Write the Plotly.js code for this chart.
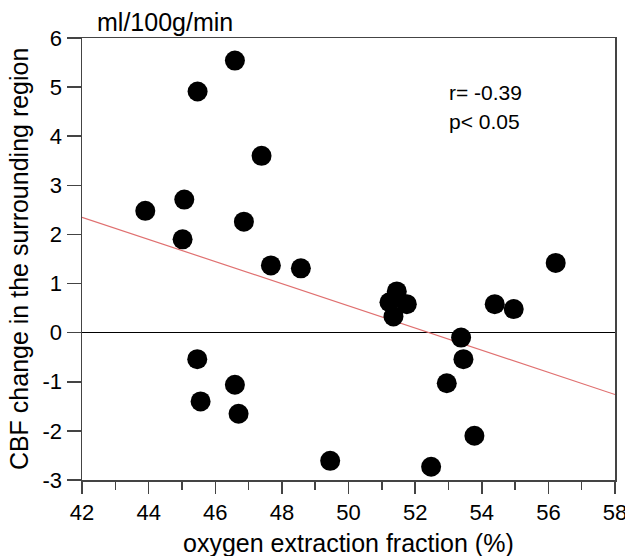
<!DOCTYPE html>
<html>
<head>
<meta charset="utf-8">
<script src="https://cdn.plot.ly/plotly-3.0.1.min.js"></script>
<style>html,body{margin:0;padding:0;background:#fff;}#chart{width:625px;height:556px;}</style>
</head>
<body>
<div id="chart"></div>
<script>
var oef = [43.9, 45.07, 45.02, 45.47, 46.59, 47.39, 46.86, 47.67, 48.57,
           45.46, 45.56, 46.59, 46.70, 49.45, 52.48, 53.78, 52.95, 53.45,
           53.38, 54.39, 54.96, 51.45, 51.23, 51.75, 51.35, 56.22];
var cbfChange = [2.48, 2.71, 1.90, 4.91, 5.54, 3.60, 2.26, 1.37, 1.31,
                 -0.54, -1.40, -1.06, -1.65, -2.61, -2.73, -2.10, -1.03, -0.54,
                 -0.10, 0.58, 0.48, 0.84, 0.62, 0.58, 0.33, 1.42];
var fitX = [42, 58];
var fitY = [2.35, -1.26];
var xTicks = [42, 44, 46, 48, 50, 52, 54, 56, 58];
var yTicks = [-3, -2, -1, 0, 1, 2, 3, 4, 5, 6];

var font = 'Liberation Sans, Arial, sans-serif';

var traces = [
  {x: fitX, y: fitY, mode: 'lines', type: 'scatter',
   line: {color: '#e07070', width: 1.2}, hoverinfo: 'skip'},
  {x: oef, y: cbfChange, mode: 'markers', type: 'scatter',
   marker: {color: '#000', size: 20, line: {width: 0}}}
];

var layout = {
  width: 625, height: 556,
  margin: {l: 82, r: 10, t: 38, b: 76},
  paper_bgcolor: '#fff', plot_bgcolor: '#fff',
  showlegend: false,
  font: {family: font, color: '#000', size: 22},
  xaxis: {
    range: [42, 58], tickvals: xTicks, ticktext: xTicks.map(String),
    ticks: 'outside', ticklen: 12, tickwidth: 1.5, tickcolor: '#444',
    minor: {dtick: 1, tick0: 42, ticks: 'outside', ticklen: 8, tickwidth: 1.5, tickcolor: '#444'},
    showline: true, linecolor: '#444', linewidth: 1.5, mirror: true,
    showgrid: false, zeroline: false, ticklabeloverflow: 'allow',
    tickfont: {size: 22, family: font}
  },
  yaxis: {
    range: [-3, 6], tickvals: yTicks, ticktext: yTicks.map(String),
    ticks: 'outside', ticklen: 14, tickwidth: 1.5, tickcolor: '#444',
    showline: true, linecolor: '#444', linewidth: 1.5, mirror: true,
    showgrid: false, zeroline: true, zerolinecolor: '#000', zerolinewidth: 1.5,
    tickfont: {size: 22, family: font}
  },
  annotations: [
    {text: 'oxygen extraction fraction (%)', xref: 'paper', yref: 'paper',
     x: 0.5, y: -0.1425, xanchor: 'center', yanchor: 'middle', showarrow: false,
     font: {size: 25, family: font}},
    {text: 'CBF change in the surrounding region', xref: 'paper', yref: 'paper',
     x: -0.118, y: 0.5, xanchor: 'center', yanchor: 'middle', textangle: -90, showarrow: false,
     font: {size: 25, family: font}},
    {text: 'ml/100g/min', xref: 'paper', yref: 'paper', x: 0.024, y: 1.036,
     xanchor: 'left', yanchor: 'middle', showarrow: false, font: {size: 25, family: font}},
    {text: 'r= -0.39', xref: 'paper', yref: 'paper', x: 0.685, y: 0.876,
     xanchor: 'left', yanchor: 'middle', showarrow: false, font: {size: 21, family: font}},
    {text: 'p< 0.05', xref: 'paper', yref: 'paper', x: 0.685, y: 0.810,
     xanchor: 'left', yanchor: 'middle', showarrow: false, font: {size: 21, family: font}}
  ]
};

Plotly.newPlot('chart', traces, layout, {displayModeBar: false, staticPlot: true});
</script>
</body>
</html>
